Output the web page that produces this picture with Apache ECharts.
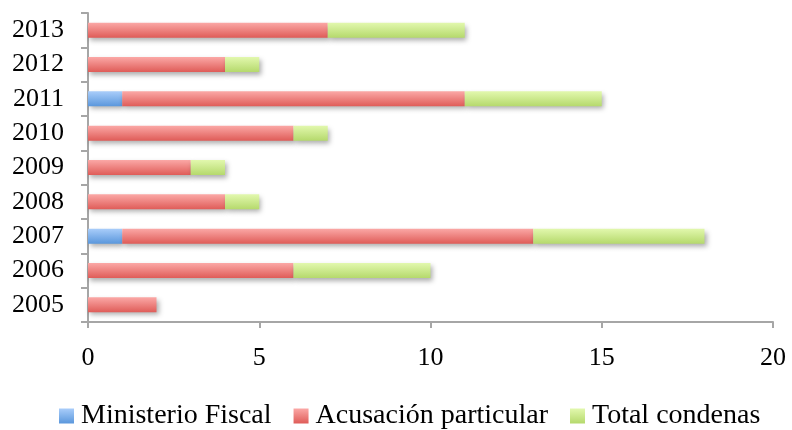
<!DOCTYPE html>
<html>
<head>
<meta charset="utf-8">
<script src="https://cdn.jsdelivr.net/npm/echarts@6/dist/echarts.min.js"></script>
<style>
  html, body { margin: 0; padding: 0; background: #fff; }
  #chart { width: 792px; height: 430px; }
</style>
</head>
<body>
<div id="chart"></div>
<script>
// Years shown on the category axis (bottom to top)
const years = ['2005', '2006', '2007', '2008', '2009', '2010', '2011', '2012', '2013'];

// Stacked segment lengths per year
const ministerioFiscal = [0, 0, 1, 0, 0, 0, 1, 0, 0];
const acusacionParticular = [2, 6, 12, 4, 3, 6, 10, 4, 7];
const totalCondenas = [0, 4, 5, 1, 1, 1, 4, 1, 4];

const xTicks = { min: 0, max: 20, interval: 5 };

const FONT = '"Liberation Serif", "DejaVu Serif", serif';

function grad(top, bottom) {
  return new echarts.graphic.LinearGradient(0, 0, 0, 1, [
    { offset: 0, color: top },
    { offset: 1, color: bottom }
  ]);
}

function makeSeries(name, values, top, bottom) {
  return {
    name: name,
    type: 'bar',
    stack: 'total',
    barWidth: 15,
    data: values.map(v => (v === 0 ? null : v)),
    itemStyle: {
      color: grad(top, bottom),
      shadowColor: 'rgba(0,0,0,0.32)',
      shadowBlur: 5,
      shadowOffsetX: 2,
      shadowOffsetY: 3
    },
    emphasis: { disabled: true }
  };
}

const series = [
  makeSeries('Ministerio Fiscal', ministerioFiscal, '#a9cdfa', '#5a97dc'),
  makeSeries('Acusación particular', acusacionParticular, '#fba8a6', '#df5c58'),
  makeSeries('Total condenas', totalCondenas, '#e2f8ae', '#b5d96c')
];

const chart = echarts.init(document.getElementById('chart'), null, { renderer: 'canvas' });

chart.setOption({
  animation: false,
  backgroundColor: '#ffffff',
  grid: { left: 88, right: 19, top: 13, bottom: 108, containLabel: false },
  legend: {
    left: 59,
    top: 402,
    padding: 0,
    icon: 'rect',
    itemWidth: 15,
    itemHeight: 15,
    itemGap: 22,
    textStyle: { fontFamily: FONT, fontSize: 28, color: '#000', padding: [0, 0, 0, 2] },
    data: [
      { name: 'Ministerio Fiscal', itemStyle: { color: grad('#a9cdfa', '#5a97dc') } },
      { name: 'Acusación particular', itemStyle: { color: grad('#fba8a6', '#df5c58') } },
      { name: 'Total condenas', itemStyle: { color: grad('#e2f8ae', '#b5d96c') } }
    ]
  },
  xAxis: {
    type: 'value',
    min: xTicks.min,
    max: xTicks.max,
    interval: xTicks.interval,
    axisLine: { show: true, lineStyle: { color: '#a6a6a6', width: 2 } },
    axisTick: { show: true, length: 6, lineStyle: { color: '#a6a6a6', width: 2 } },
    splitLine: { show: false },
    axisLabel: { fontFamily: FONT, fontSize: 26, color: '#000', margin: 23 }
  },
  yAxis: {
    type: 'category',
    data: years,
    axisLine: { show: true, lineStyle: { color: '#a6a6a6', width: 2 } },
    axisTick: { show: true, length: 7, lineStyle: { color: '#a6a6a6', width: 2 } },
    axisLabel: { fontFamily: FONT, fontSize: 26, color: '#000', margin: 24 }
  },
  series: series
});
</script>
</body>
</html>
